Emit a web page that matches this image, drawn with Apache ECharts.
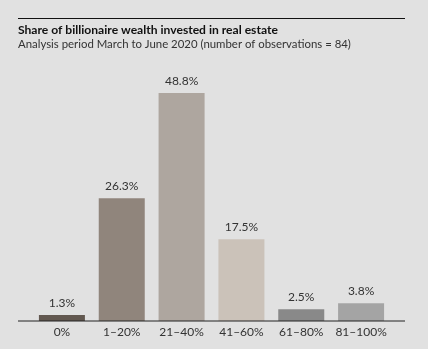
<!DOCTYPE html>
<html><head><meta charset="utf-8">
<script src="https://cdn.jsdelivr.net/npm/echarts@6/dist/echarts.min.js"></script>
<style>html,body{margin:0;padding:0;background:#e1e1e1;}#c{width:428px;height:349px;}</style>
</head><body><div id="c"></div>
<script>
const categories = ['0%', '1–20%', '21–40%', '41–60%', '61–80%', '81–100%'];
const values = [1.3, 26.3, 48.8, 17.5, 2.5, 3.8];
const colors = ['#625850', '#90857c', '#aea69f', '#cbc2b9', '#898989', '#a4a4a4'];
const font = 'Lato, "Open Sans", sans-serif';
const chart = echarts.init(document.getElementById('c'));
chart.setOption({
  backgroundColor: '#e1e1e1',
  animation: false,
  title: {
    text: 'Share of billionaire wealth invested in real estate',
    subtext: 'Analysis period March to June 2020 (number of observations = 84)',
    left: 13, top: 19, itemGap: 3,
    textStyle: {fontFamily: font, fontSize: 12.1, fontWeight: 'bold', color: '#111'},
    subtextStyle: {fontFamily: font, fontSize: 11.4, color: '#333'}
  },
  graphic: [
    {type: 'line', shape: {x1: 18, y1: 18.5, x2: 405, y2: 18.5}, style: {stroke: '#111', lineWidth: 1}},
    {type: 'line', shape: {x1: 18, y1: 321, x2: 405, y2: 321}, style: {stroke: '#222', lineWidth: 1}, z: 10}
  ],
  grid: {left: 32, right: 37, top: 87.4, bottom: 28},
  xAxis: {
    type: 'category', data: categories,
    axisLine: {show: false}, axisTick: {show: false},
    axisLabel: {interval: 0, fontFamily: font, fontSize: 12, color: '#333', margin: 5}
  },
  yAxis: {type: 'value', min: 0, max: 50, show: false, splitLine: {show: false}},
  series: [{
    type: 'bar', barWidth: 46,
    data: values.map((v, i) => ({value: v, itemStyle: {color: colors[i]}})),
    label: {show: true, position: 'top', distance: 6, formatter: p => p.value.toFixed(1) + '%',
      fontFamily: font, fontSize: 12, color: '#333'}
  }]
});
</script></body></html>
